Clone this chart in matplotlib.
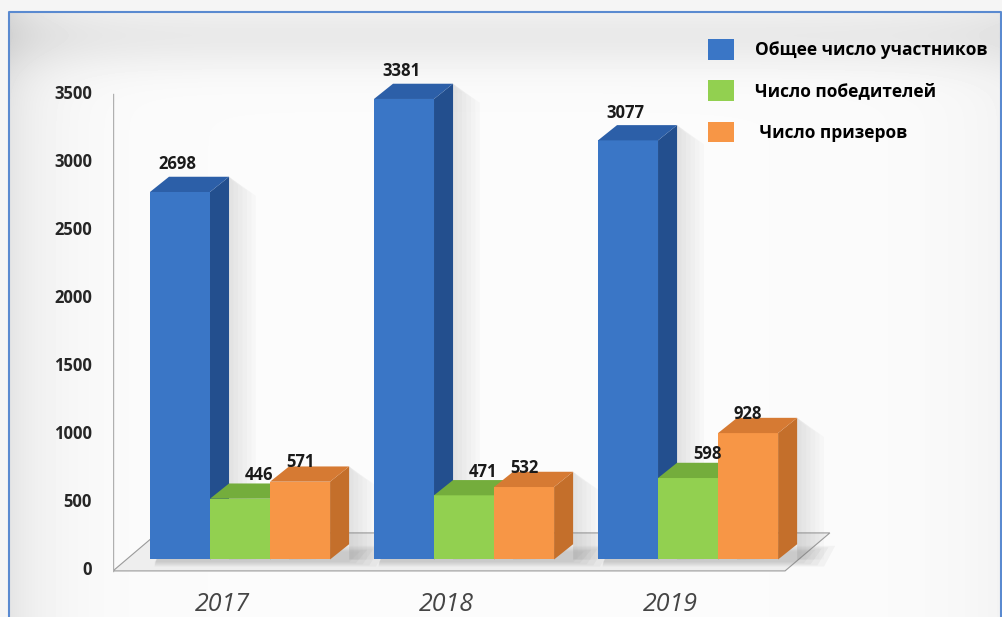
import numpy as np
import matplotlib
matplotlib.use('Agg')
import matplotlib.pyplot as plt
from matplotlib.patches import Polygon, Patch

# ---------------------------------------------------------
# DATA
# ---------------------------------------------------------
years = ['2017', '2018', '2019']
series_names = ['Общее число участников', 'Число победителей', ' Число призеров']
participants = [2698, 3381, 3077]
winners = [446, 471, 598]
prizewinners = [571, 532, 928]
y_ticks = [0, 500, 1000, 1500, 2000, 2500, 3000, 3500]

# ---------------------------------------------------------
# STYLE
# ---------------------------------------------------------
front_colors = ['#3a76c6', '#92d050', '#f79646']
side_colors = ['#234f8e', '#6a9e38', '#c46f2b']
top_colors = ['#2c5fa8', '#74ad3c', '#d67a33']
label_offsets = [(-2, 9), (14, 6), (0, 3)]   # points, per series

BAR_W = 0.268      # bar width in category units
DX, DY = 0.085, 112  # bar depth (category units, value units)
FRONT = -80        # value offset of the front plane (ticks, axis line)
FLOOR_FRONT, FLOOR_BACK = -84, 195
FLOOR_X0, FLOOR_X1, FLOOR_DX = -0.567, 2.433, 0.2

plt.rcParams['font.family'] = ['Open Sans', 'DejaVu Sans']

fig = plt.figure(figsize=(10.03, 6.17), dpi=100)

# background with soft vignette and blue frame
bg = fig.add_axes([0, 0, 1, 1])
bg.set_xlim(0, 1003)
bg.set_ylim(617, 0)
bg.axis('off')
xx, yy = np.meshgrid(np.arange(1003), np.arange(617))
shade = 0.985 - 0.09 * np.exp(-np.clip(xx - 9, 0, None) / 40.0) \
        - 0.07 * np.exp(-((yy - 35) / 35.0) ** 2) \
        - 0.03 * np.exp(-np.clip(1001 - xx, 0, None) / 60.0)
shade[:, :9] = 0.96
shade[:12, :] = 0.96
bg.imshow(shade, cmap='gray', vmin=0, vmax=1, extent=(0, 1003, 617, 0), aspect='auto')
bg.plot([9, 9, 1001, 1001], [617, 12, 12, 617], color='#5a8ad0', lw=1.5)

ax = fig.add_axes([113 / 1003, 42 / 617, 722 / 1003, 535 / 617])
ax.set_xlim(-0.567, 2.656)
ax.set_ylim(-114, 3814)
ax.axis('off')

# floor
floor = Polygon([(FLOOR_X0, FLOOR_FRONT), (FLOOR_X1, FLOOR_FRONT),
                 (FLOOR_X1 + FLOOR_DX, FLOOR_BACK), (FLOOR_X0 + FLOOR_DX, FLOOR_BACK)],
                closed=True, facecolor='#eeeeee', edgecolor='#9a9a9a', lw=0.8, zorder=1)
ax.add_patch(floor)
ax.plot([FLOOR_X0, FLOOR_X0], [FLOOR_FRONT, y_ticks[-1] + FRONT], color='#b0b0b0', lw=1, zorder=1)

# tick labels
for v in y_ticks:
    ax.text(FLOOR_X0 - 0.094, v + FRONT, str(v), ha='right', va='center',
            fontsize=12, fontweight='bold', color='#262626')

values = [participants, winners, prizewinners]
x = np.arange(len(years))
z = 3
for i in range(len(years)):
    # soft shadow on the floor behind the group
    g0 = x[i] - 1.5 * BAR_W
    g1 = x[i] + 1.5 * BAR_W + DX
    for k in range(5):
        ax.add_patch(Polygon([(g0 + 0.02, -20 - 8 * k), (g1 + 0.03 * k, -20 - 8 * k),
                              (g1 + 0.03 * k + 0.05, 60 + 10 * k), (g0 + 0.05, 60 + 10 * k)],
                             closed=True, facecolor='#808080', edgecolor='none', alpha=0.07, zorder=2))
    for s in range(3):
        h = values[s][i]
        left = x[i] + (s - 1.5) * BAR_W
        right = left + BAR_W
        # shadow to the right of the bar
        for k in range(6):
            ax.add_patch(Polygon([(right + DX, 0), (right + DX + 0.02 + 0.02 * k, 0),
                                  (right + DX + 0.02 + 0.02 * k, h + DY - 40 - 20 * k), (right + DX, h + DY)],
                                 closed=True, facecolor='#888888', edgecolor='none', alpha=0.035, zorder=2))
        ax.bar(left, h, width=BAR_W, align='edge', color=front_colors[s], zorder=z)
        ax.add_patch(Polygon([(right, 0), (right + DX, DY), (right + DX, h + DY), (right, h)],
                             closed=True, facecolor=side_colors[s], edgecolor='none', zorder=z))
        ax.add_patch(Polygon([(left, h), (right, h), (right + DX, h + DY), (left + DX, h + DY)],
                             closed=True, facecolor=top_colors[s], edgecolor='none', zorder=z))
        z += 1
        ox, oy = label_offsets[s]
        ax.annotate(str(h), xy=(left + BAR_W / 2, h + DY), xytext=(ox, oy),
                    textcoords='offset points', ha='center', va='center',
                    fontsize=12, fontweight='bold', color='#1a1a1a', zorder=50)
    ax.annotate(years[i], xy=(x[i] - 0.08, FLOOR_FRONT), xytext=(0, -24),
                textcoords='offset points', ha='center', va='center',
                fontsize=18, fontstyle='italic', color='#454545', annotation_clip=False)

handles = [Patch(facecolor=c, edgecolor='none') for c in front_colors]
fig.legend(handles, series_names, loc='upper left', bbox_to_anchor=(696 / 1003, 1 - 27 / 617),
           frameon=False, prop={'weight': 'bold', 'size': 12.5}, handlelength=1.5,
           handleheight=1.44, handletextpad=1.2, labelspacing=1.2, borderpad=0.2)

fig.savefig('out.png', dpi=100)
